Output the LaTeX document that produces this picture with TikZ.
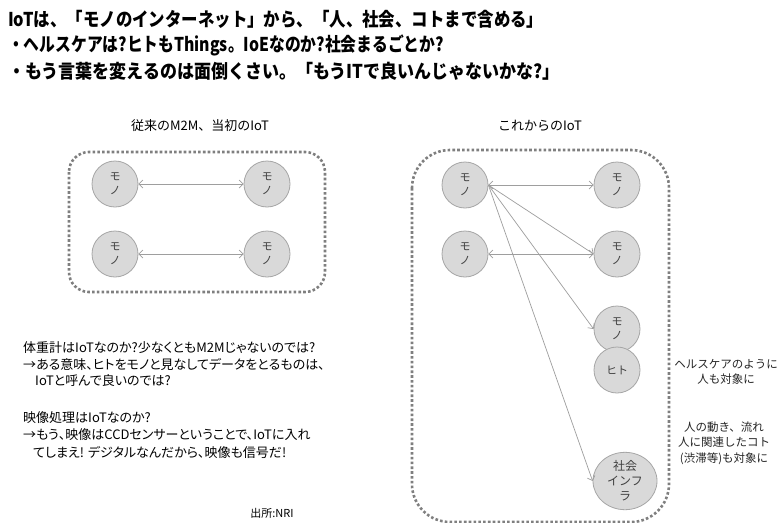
\documentclass[tikz,border=0pt]{standalone}
\usepackage{fontspec}
\usepackage{graphicx}
\setmainfont{Noto Sans CJK JP}
\newfontfamily\jp{Noto Sans CJK JP}
\newfontfamily\jpp[RawFeature=+palt]{Noto Sans CJK JP}
\usetikzlibrary{arrows.meta,shapes.geometric}
\definecolor{conn}{HTML}{9E9E9E}
\definecolor{dotc}{HTML}{7F7F7F}
\definecolor{cfill}{HTML}{D9D9D9}
\definecolor{cline}{HTML}{A6A6A6}
\definecolor{ctext}{HTML}{404040}
\tikzset{
  titleline/.style={anchor=west,inner sep=0pt,font=\jp\bfseries\fontsize{19}{19}\selectfont},
  bodyline/.style={anchor=west,inner sep=0pt,font=\jpp\fontsize{13}{13}\selectfont},
  sidetext/.style={align=center,inner sep=0pt,font=\jp\fontsize{11.5}{15.5}\selectfont,text=black!85},
  headtext/.style={inner sep=0pt,font=\jp\fontsize{13}{13}\selectfont},
  thing/.style={circle,minimum size=46pt,inner sep=0pt,fill=cfill,draw=cline,line width=0.8pt,
    align=center,text=ctext,font=\jp\fontsize{11}{14}\selectfont},
  infra/.style={ellipse,minimum width=64pt,minimum height=47pt,inner sep=0pt,fill=cfill,draw=cline,line width=0.8pt,
    align=center,text=ctext,font=\jp\fontsize{12}{15}\selectfont},
  dotbox/.style={draw=dotc,line width=2.6pt,dash pattern=on 2.6pt off 2.2pt},
  conn/.style={draw=conn,line width=0.7pt},
  biarrow/.style={conn,{Straight Barb[length=4pt,width=8pt]}-{Straight Barb[length=4pt,width=8pt]}},
  onearrow/.style={conn,-{Straight Barb[length=4pt,width=8pt]}}
}
\begin{document}
\begin{tikzpicture}[x=1pt,y=-1pt]
\useasboundingbox[fill=white] (0,0) rectangle (781,522);
% titles
\node[titleline] (t1) at (8,19) {\scalebox{0.865}[1]{IoTは、「モノのインターネット」から、「人、社会、コトまで含める」}};
\node[titleline] (t2) at (8,45) {\scalebox{0.83}[1]{・ヘルスケアは?ヒトもThings。IoEなのか?社会まるごとか?}};
\node[titleline] (t3) at (8,71) {\scalebox{0.895}[1]{・もう言葉を変えるのは面倒くさい。「もうITで良いんじゃないかな?」}};
% section heads
\node[headtext] (h1) at (200,126) {従来のM2M、当初のIoT};
\node[headtext] (h2) at (540,126) {これからのIoT};
% boxes
\draw[dotbox,rounded corners=20pt] (69,152) rectangle (325,292);
\draw[dotbox,rounded corners=38pt] (412,150) rectangle (669,522);
% left nodes
\node[thing] (a1) at (115,184) {モ\\ノ};
\node[thing] (a2) at (267,184) {モ\\ノ};
\node[thing] (a3) at (115,254) {モ\\ノ};
\node[thing] (a4) at (267,254) {モ\\ノ};
\draw[biarrow] (a1) -- (a2);
\draw[biarrow] (a3) -- (a4);
% right nodes
\node[thing] (b1) at (465,185) {モ\\ノ};
\node[thing] (b2) at (617,185) {モ\\ノ};
\node[thing] (b3) at (465,254) {モ\\ノ};
\node[thing] (b4) at (617,254) {モ\\ノ};
\node[thing] (b5) at (617,329) {モ\\ノ};
\node[thing] (b6) at (617,370) {ヒト};
\node[infra] (b7) at (625,481) {社会\\インフ\\ラ};
\draw[biarrow] (b1) -- (b2);
\draw[biarrow] (b3) -- (b4);
\draw[onearrow] (b1.east) -- (b4.west);
\draw[onearrow] (b1.east) -- (b5.west);
\draw[onearrow] (b1.east) -- (b7.west);
% side notes
\node[sidetext] (n1) at (726,372) {ヘルスケアのように\\人も対象に};
\node[sidetext] (n2) at (724,443) {人の動き、流れ\\人に関連したコト\\(渋滞等)も対象に};
% body text
\node[bodyline] (p1) at (23,348) {体重計はIoTなのか?少なくともM2Mじゃないのでは?};
\node[bodyline] (p2) at (23,364) {→ある意味、ヒトをモノと見なしてデータをとるものは、};
\node[bodyline] (p3) at (35,381) {IoTと呼んで良いのでは?};
\node[bodyline] (p4) at (23,418) {映像処理はIoTなのか?};
\node[bodyline] (p5) at (23,435) {→もう、映像はCCDセンサーということで、IoTに入れ};
\node[bodyline] (p6) at (33,452) {てしまえ! デジタルなんだから、映像も信号だ!};
\node[inner sep=0pt,font=\jp\fontsize{11}{11}\selectfont] (src) at (272,513) {出所:NRI};
\end{tikzpicture}
\end{document}
